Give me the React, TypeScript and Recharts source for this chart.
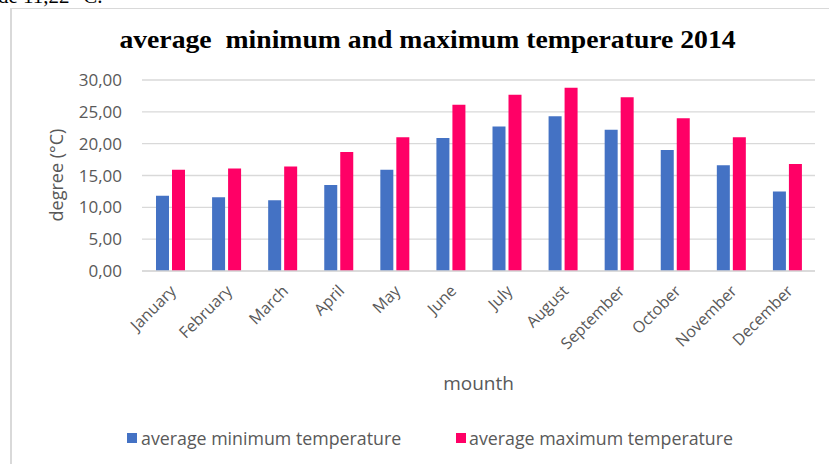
import { BarChart, Bar, XAxis, YAxis, CartesianGrid } from "recharts";

const months = [
  "January", "February", "March", "April", "May", "June",
  "July", "August", "September", "October", "November", "December",
];
const minTemp = [11.8, 11.6, 11.1, 13.5, 15.9, 20.9, 22.7, 24.3, 22.2, 19.0, 16.6, 12.5];
const maxTemp = [15.9, 16.1, 16.4, 18.7, 21.0, 26.1, 27.7, 28.8, 27.3, 24.0, 21.0, 16.8];
const yTicks = [0, 5, 10, 15, 20, 25, 30];

const data = months.map((m, i) => ({ month: m, min: minTemp[i], max: maxTemp[i] }));

const BLUE = "#4472C4";
const PINK = "#FF0066";
const GREY = "#595959";
const FONT = "'Open Sans', 'Noto Sans', sans-serif";

function MonthTick({ x, y, payload }: any) {
  const ax = x + 7;
  const ay = y + 13;
  return (
    <text
      x={ax}
      y={ay}
      transform={`rotate(-45 ${ax} ${ay})`}
      textAnchor="end"
      fill={GREY}
      fontSize={16}
      fontFamily={FONT}
    >
      {payload.value}
    </text>
  );
}

export default function App() {
  return (
    <div
      style={{
        position: "absolute",
        left: 0,
        top: 0,
        width: 829,
        height: 464,
        background: "#fff",
        overflow: "hidden",
        fontFamily: FONT,
      }}
    >
      <div
        style={{
          position: "absolute",
          left: -2,
          top: -16,
          fontFamily: "'Liberation Serif', serif",
          fontSize: 21,
          color: "#000",
          whiteSpace: "pre",
        }}
      >
        de 11,22 °C.
      </div>
      <div
        style={{
          position: "absolute",
          left: 10,
          top: 8,
          width: 830,
          height: 470,
          borderTop: "1.5px solid #d9d9d9",
          borderLeft: "2px solid #d9d9d9",
        }}
      />
      <div
        style={{
          position: "absolute",
          left: 0,
          top: 25,
          width: 855,
          textAlign: "center",
          fontFamily: "'Liberation Serif', serif",
          fontWeight: "bold",
          fontSize: 26,
          color: "#000",
          whiteSpace: "pre",
          transform: "scaleX(1.065)",
          transformOrigin: "427px 0",
        }}
      >
        average  minimum and maximum temperature 2014
      </div>
      <BarChart
        width={829}
        height={464}
        data={data}
        margin={{ top: 80, right: 14, left: 0, bottom: 0 }}
        barSize={13}
        barGap={3}
      >
        <CartesianGrid vertical={false} stroke="#d9d9d9" strokeWidth={1.3} />
        <XAxis
          dataKey="month"
          height={193}
          axisLine={{ stroke: "#d9d9d9", strokeWidth: 1.3 }}
          tickLine={false}
          interval={0}
          tick={<MonthTick />}
          label={{
            value: "mounth",
            position: "insideBottom",
            offset: 74,
            fill: GREY,
            fontSize: 19,
          }}
        />
        <YAxis
          width={142}
          domain={[0, 30]}
          ticks={yTicks}
          axisLine={false}
          tickLine={false}
          tickSize={0}
          tickMargin={20}
          tick={{ fill: GREY, fontSize: 17 }}
          tickFormatter={(v: number) => v.toFixed(2).replace(".", ",")}
          label={() => {
            const cy = 175;
            const cx = 56;
            return (
              <text
                x={cx}
                y={cy}
                transform={`rotate(-90 ${cx} ${cy})`}
                textAnchor="middle"
                dominantBaseline="central"
                fill={GREY}
                fontSize={18}
                fontFamily={FONT}
              >
                degree (°C)
              </text>
            );
          }}
        />
        <Bar dataKey="min" name="average minimum temperature" fill={BLUE} isAnimationActive={false} />
        <Bar dataKey="max" name="average maximum temperature" fill={PINK} isAnimationActive={false} />
      </BarChart>
      <div
        style={{
          position: "absolute",
          left: 0,
          top: 426,
          width: 829,
          fontSize: 17.8,
          color: GREY,
        }}
      >
        <span style={{ position: "absolute", left: 127, top: 7, width: 10, height: 10, background: BLUE }} />
        <span style={{ position: "absolute", left: 141, top: 0 }}>average minimum temperature</span>
        <span style={{ position: "absolute", left: 456, top: 7, width: 10, height: 10, background: PINK }} />
        <span style={{ position: "absolute", left: 469, top: 0 }}>average maximum temperature</span>
      </div>
    </div>
  );
}
